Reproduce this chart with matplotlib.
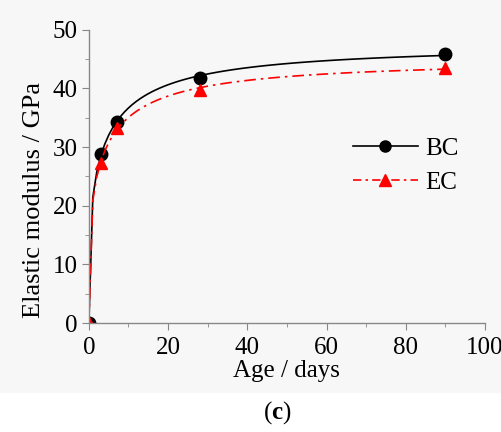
import numpy as np
import matplotlib
matplotlib.use("Agg")
import matplotlib.pyplot as plt
from matplotlib.patches import Rectangle

age = [0, 3, 7, 28, 90]
bc = [0, 28.8, 34.2, 41.8, 45.9]
ec = [0, 27.3, 33.3, 39.7, 43.5]


def fit_curve(t, e):
    # E = a * (t / (b + t)) ** c, least squares on a grid of b, c
    t = np.asarray(t, float)
    e = np.asarray(e, float)
    best = None
    for b in np.linspace(0.2, 15, 150):
        for c in np.linspace(0.1, 1.5, 141):
            g = (t / (b + t)) ** c
            a = np.dot(g, e) / np.dot(g, g)
            err = np.sum((a * g - e) ** 2)
            if best is None or err < best[0]:
                best = (err, a, b, c)
    _, a, b, c = best
    tt = np.arange(0, 91, 1.0)  # curve sampled per day
    return tt, a * (tt / (b + tt)) ** c


plt.rcParams['font.family'] = ['Liberation Serif', 'DejaVu Serif']
plt.rcParams['mathtext.fontset'] = 'custom'
plt.rcParams['mathtext.rm'] = 'Liberation Serif'
plt.rcParams['mathtext.bf'] = 'Liberation Serif:bold'

fs = 18
bg = '#f7f7f7'

fig = plt.figure(figsize=(5.02, 4.32), dpi=100, facecolor='white')
fig.patches.append(Rectangle((0, 0.09), 1, 0.91, transform=fig.transFigure,
                             facecolor=bg, edgecolor='none', zorder=-10))
ax = fig.add_axes([0.177, 0.252, 0.789, 0.679])
ax.set_facecolor(bg)

tt, yb = fit_curve(age, bc)
ax.plot(tt, yb, color='black', lw=1.2)
ax.plot(age, bc, 'o', color='black', ms=9)

tt, ye = fit_curve(age, ec)
ax.plot(tt, ye, color='red', lw=1.2, ls=(0, (7, 3, 1.5, 3)))
ax.plot(age, ec, '^', color='red', ms=9)

# legend proxies
ax.plot([], [], color='black', lw=1.2, marker='o', ms=8, label='BC')
ax.plot([], [], color='red', lw=1.2, ls=(0, (5, 2.5, 1.5, 2.5)), marker='^', ms=8, label='EC')
h, l = ax.get_legend_handles_labels()
ax.legend(h, l, loc='upper left', bbox_to_anchor=(0.61, 0.71), frameon=False,
          fontsize=fs, handlelength=2.6, labelspacing=0.45, handletextpad=0.3)

ax.set_xlim(0, 100)
ax.set_ylim(0, 50)
ax.set_xticks(range(0, 101, 20))
ax.set_xticks(range(0, 101, 10), minor=True)
ax.set_yticks(range(0, 51, 10))
ax.set_yticks(range(0, 51, 5), minor=True)

for s in ['top', 'right']:
    ax.spines[s].set_visible(False)
for s in ['left', 'bottom']:
    ax.spines[s].set_color('#888888')
    ax.spines[s].set_linewidth(1.0)
ax.tick_params(which='both', direction='out', color='#888888', labelsize=fs)
ax.tick_params(axis='x', pad=5)
ax.tick_params(axis='y', pad=3)
ax.tick_params(which='major', length=5)
ax.tick_params(which='minor', length=3)

ax.set_xlabel('Age / days', fontsize=fs, labelpad=1)
ax.set_ylabel('Elastic modulus / GPa', fontsize=19)
ax.yaxis.set_label_coords(-0.11, 0.42)

fig.text(0.553, 0.046, r'($\mathbf{c}$)', fontsize=fs, ha='center', va='center')

fig.savefig('out.png', dpi=100, facecolor=fig.get_facecolor())
